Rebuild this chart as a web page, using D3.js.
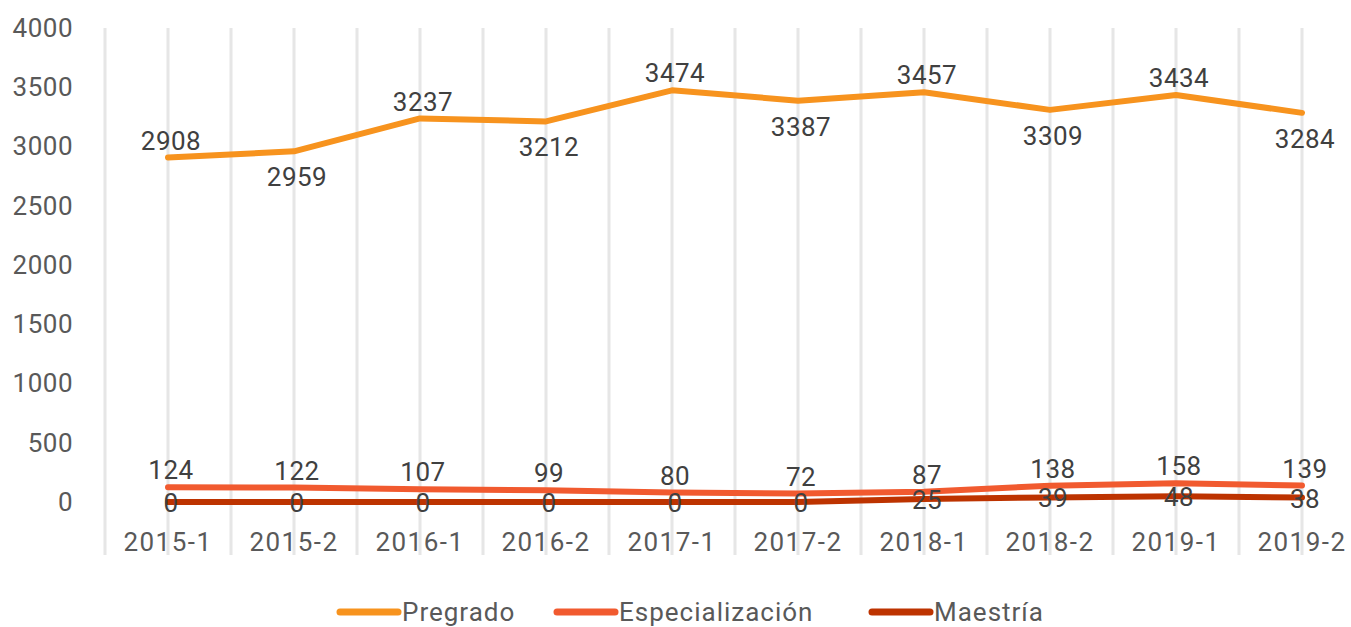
<!DOCTYPE html>
<html>
<head>
<meta charset="utf-8">
<script src="https://cdn.jsdelivr.net/npm/d3@7"></script>
<style>
  body { margin: 0; background: #fff; }
  text { font-family: Roboto, "DejaVu Sans", sans-serif; }
</style>
</head>
<body>
<div id="chart"></div>
<script>
var categories = ["2015-1", "2015-2", "2016-1", "2016-2", "2017-1", "2017-2", "2018-1", "2018-2", "2019-1", "2019-2"];
var pregrado = [2908, 2959, 3237, 3212, 3474, 3387, 3457, 3309, 3434, 3284];
var especializacion = [124, 122, 107, 99, 80, 72, 87, 138, 158, 139];
var maestria = [0, 0, 0, 0, 0, 0, 25, 39, 48, 38];
var yTicks = [0, 500, 1000, 1500, 2000, 2500, 3000, 3500, 4000];
var seriesNames = ["Pregrado", "Especialización", "Maestría"];

var width = 1351, height = 627;

var series = [
  {name: seriesNames[0], values: pregrado, color: "#F7931E",
   pos: ["above", "below", "above", "below", "above", "below", "above", "below", "above", "below"]},
  {name: seriesNames[1], values: especializacion, color: "#F15A2F",
   pos: categories.map(function(){ return "above"; })},
  {name: seriesNames[2], values: maestria, color: "#BD3300",
   pos: categories.map(function(){ return "center"; })}
];

var svg = d3.select("#chart")
  .append("svg")
    .attr("width", width)
    .attr("height", height);

var x = d3.scaleBand()
  .domain(categories)
  .range([105, 105 + 126 * categories.length]);
var bw = x.bandwidth();
function cx(c) { return x(c) + bw / 2; }

var y = d3.scaleLinear()
  .domain([0, 4000])
  .range([502, 28]);

// vertical gridlines (band edges and centres)
var gridX = [];
categories.forEach(function(c){ gridX.push(x(c)); gridX.push(cx(c)); });
svg.append("g")
  .selectAll("line")
  .data(gridX)
  .enter()
  .append("line")
    .attr("x1", function(d){ return d; })
    .attr("x2", function(d){ return d; })
    .attr("y1", y(4000))
    .attr("y2", 555)
    .attr("stroke", "#E6E6E6")
    .attr("stroke-width", 3);

// y axis labels
var yAxis = svg.append("g")
  .attr("transform", "translate(106,0)")
  .call(d3.axisLeft(y).tickValues(yTicks).tickSize(0).tickPadding(33).tickFormat(d3.format("d")));
yAxis.select(".domain").remove();
yAxis.selectAll("text")
  .attr("font-size", 26)
  .attr("fill", "#595959")
  .style("letter-spacing", "0.5px")
  .style("font-family", "Roboto, sans-serif");

// x axis labels
var xAxis = svg.append("g")
  .attr("transform", "translate(0,530)")
  .call(d3.axisBottom(x).tickSize(0).tickPadding(0));
xAxis.select(".domain").remove();
xAxis.selectAll("text")
  .attr("font-size", 26)
  .attr("fill", "#595959")
  .attr("dy", "0.35em")
  .attr("y", 12)
  .style("letter-spacing", "1.5px")
  .style("font-family", "Roboto, sans-serif");

// lines
var line = d3.line()
  .x(function(d, i){ return cx(categories[i]); })
  .y(function(d){ return y(d); });

svg.append("g")
  .selectAll("path")
  .data(series)
  .enter()
  .append("path")
    .attr("d", function(s){ return line(s.values); })
    .attr("fill", "none")
    .attr("stroke", function(s){ return s.color; })
    .attr("stroke-width", 6)
    .attr("stroke-linecap", "round")
    .attr("stroke-linejoin", "round");

// data labels
series.forEach(function(s){
  svg.append("g")
    .selectAll("text")
    .data(s.values)
    .enter()
    .append("text")
      .attr("x", function(d, i){ return cx(categories[i]) + 3; })
      .attr("y", function(d, i){
        var p = s.pos[i];
        if (p === "above") return y(d) - 17;
        if (p === "below") return y(d) + 26;
        return y(d) + 1;
      })
      .attr("dy", "0.35em")
      .attr("text-anchor", "middle")
      .attr("font-size", 26)
      .attr("fill", "#404040")
      .style("letter-spacing", "0.5px")
      .text(function(d){ return d; });
});

// legend
var legendX = [340, 557, 872];
var legend = svg.append("g")
  .selectAll("g")
  .data(series)
  .enter()
  .append("g")
    .attr("transform", function(s, i){ return "translate(" + legendX[i] + ",612)"; });
legend.append("line")
  .attr("x1", 0).attr("x2", 58)
  .attr("y1", 0).attr("y2", 0)
  .attr("stroke", function(s){ return s.color; })
  .attr("stroke-width", 7)
  .attr("stroke-linecap", "round");
legend.append("text")
  .attr("x", 62)
  .attr("dy", "0.35em")
  .attr("font-size", 26)
  .attr("fill", "#595959")
  .style("letter-spacing", "1px")
  .text(function(s){ return s.name; });
</script>
</body>
</html>
